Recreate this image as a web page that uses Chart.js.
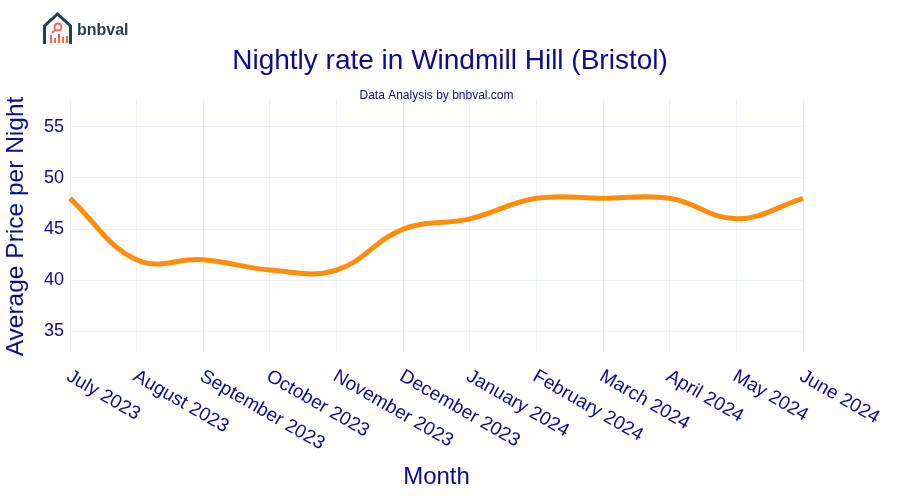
<!DOCTYPE html>
<html>
<head>
<meta charset="utf-8">
<script src="https://cdn.jsdelivr.net/npm/chart.js@4.4.0/dist/chart.umd.min.js"></script>
<style>
  html, body { margin: 0; padding: 0; background: #fff; }
  #wrap { width: 900px; height: 500px; position: relative; }
</style>
</head>
<body>
<div id="wrap"><canvas id="chart" width="900" height="500"></canvas></div>
<script>
// data
const months = ["July 2023", "August 2023", "September 2023", "October 2023", "November 2023",
    "December 2023", "January 2024", "February 2024", "March 2024", "April 2024", "May 2024", "June 2024"];
const avgPrice = [48, 42, 42, 41, 41, 45, 46, 48, 48, 48, 46, 48];
const yTicks = [35, 40, 45, 50, 55];

const titleText = "Nightly rate in Windmill Hill (Bristol)";
const subtitleText = "Data Analysis by bnbval.com";
const textColor = "#0b0b8c";
const fontFam = "'Liberation Sans', Arial, sans-serif";

// titles, logo and rotated month labels
const decor = {
    id: "decor",
    afterDraw(chart) {
        const ctx = chart.ctx;
        const area = chart.chartArea;
        ctx.save();

        // logo
        ctx.strokeStyle = "#243e4f";
        ctx.lineWidth = 3;
        ctx.lineJoin = "miter";
        ctx.beginPath();
        ctx.moveTo(44.5, 44);
        ctx.lineTo(44.5, 26);
        ctx.lineTo(57.5, 14);
        ctx.lineTo(70.5, 26);
        ctx.lineTo(70.5, 44);
        ctx.stroke();
        ctx.strokeStyle = "#ef6a4c";
        ctx.fillStyle = "#ef6a4c";
        ctx.lineWidth = 2;
        ctx.beginPath();
        ctx.arc(58, 27, 3.5, 0, Math.PI * 2);
        ctx.stroke();
        ctx.beginPath();
        ctx.moveTo(55.5, 29.5);
        ctx.lineTo(52, 33);
        ctx.stroke();
        const bars = [[50, 35], [54, 38], [58, 34], [62, 37], [66, 36]];
        bars.forEach(b => ctx.fillRect(b[0], b[1], 2, 43 - b[1]));
        ctx.fillStyle = "#243e4f";
        ctx.font = "bold 16px " + fontFam;
        ctx.textAlign = "left";
        ctx.textBaseline = "alphabetic";
        ctx.fillText("bnbval", 77, 34.5);

        // title + subtitle
        ctx.fillStyle = textColor;
        ctx.textAlign = "center";
        ctx.textBaseline = "middle";
        ctx.font = "28px " + fontFam;
        ctx.fillText(titleText, 450, 61);
        ctx.font = "12px " + fontFam;
        ctx.fillText(subtitleText, (area.left + area.right) / 2, 96);

        // month labels, rotated clockwise from the tick
        const xs = chart.scales.x;
        ctx.font = "19px " + fontFam;
        ctx.textAlign = "left";
        ctx.textBaseline = "middle";
        months.forEach((m, i) => {
            const px = xs.getPixelForTick(i);
            ctx.save();
            ctx.translate(px - 2, area.bottom + 22);
            ctx.rotate(30 * Math.PI / 180);
            ctx.fillText(m, 0, 0);
            ctx.restore();
        });
        ctx.restore();
    }
};

new Chart(document.getElementById("chart"), {
    type: "line",
    data: {
        labels: months,
        datasets: [{
            label: "Average Price per Night",
            data: avgPrice,
            borderColor: "#ff8c0a",
            borderWidth: 5,
            pointRadius: 0,
            tension: 0.4,
            cubicInterpolationMode: "default",
            fill: false,
        }],
    },
    options: {
        responsive: false,
        animation: false,
        layout: { padding: { top: 100, right: 97, bottom: 8, left: 0 } },
        plugins: {
            legend: { display: false },
            tooltip: { enabled: false },
        },
        scales: {
            x: {
                offset: false,
                grid: { color: "#ebf0f8", lineWidth: 1, drawTicks: false },
                border: { display: false },
                ticks: { display: false },
                title: {
                    display: true,
                    text: "Month",
                    color: textColor,
                    font: { family: fontFam, size: 24 },
                    padding: { top: 0, bottom: 0 },
                },
                afterFit(scale) { scale.height = 139; },
            },
            y: {
                min: 32.9,
                max: 57.6,
                grid: { color: "#ebf0f8", lineWidth: 1, drawTicks: false },
                border: { display: false },
                ticks: {
                    color: textColor,
                    font: { family: fontFam, size: 18 },
                    padding: 6,
                },
                afterBuildTicks(scale) {
                    scale.ticks = yTicks.map(v => ({ value: v }));
                },
                title: {
                    display: true,
                    text: "Average Price per Night",
                    color: textColor,
                    font: { family: fontFam, size: 24.5 },
                    padding: { top: 2, bottom: 0 },
                },
                afterFit(scale) { scale.width = 70; },
            },
        },
    },
    plugins: [decor],
});
</script>
</body>
</html>
